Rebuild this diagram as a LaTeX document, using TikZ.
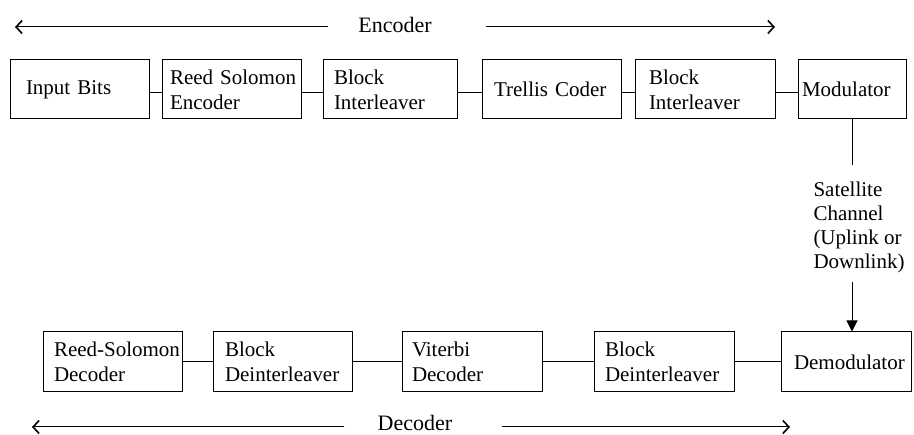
\documentclass[tikz,border=0pt]{standalone}
\usepackage{fontspec}
\setmainfont{Liberation Serif}
\usetikzlibrary{arrows.meta}

\begin{document}
\begin{tikzpicture}[x=1pt,y=-1pt,
  line width=1pt,
  every node/.style={font=\fontsize{21}{25}\selectfont},
  blk/.style n args={3}{draw, rectangle, inner ysep=0pt, inner xsep=#2,
    text width=#1-2*#2, minimum height=#3, align=left, anchor=center},
  link/.style={line width=1pt},
  span/.style={line width=1pt, -{Straight Barb[length=6pt,width=13pt,line width=1.6pt]}},
  feed/.style={line width=1pt, -{Triangle[length=11pt,width=11pt]}}]
\useasboundingbox (0,0) rectangle (914,435);

% transmit chain
\node[blk={139pt}{16pt}{59pt}] (inb) at (79.5,89.5) {\mbox{Input Bits}};
\node[blk={139pt}{8pt}{59pt}]  (rse) at (231.5,89.5) {\mbox{Reed Solomon}\\Encoder};
\node[blk={134pt}{11pt}{59pt}] (bi1) at (390,89.5) {Block\\\mbox{Interleaver}};
\node[blk={139pt}{12pt}{59pt}] (tc)  at (551.5,89.5) {\mbox{Trellis Coder}};
\node[blk={140pt}{14pt}{59pt}] (bi2) at (705,89.5) {Block\\\mbox{Interleaver}};
\node[blk={108pt}{4pt}{59pt}]  (mod) at (852,89.5) {\mbox{Modulator}};

\foreach \a/\b in {inb/rse, rse/bi1, bi1/tc, tc/bi2, bi2/mod}
  \draw[link] ([yshift=-3.5pt]\a.east) -- ([yshift=-3.5pt]\b.west);

% receive chain
\node[blk={139pt}{11pt}{60pt}] (rsd) at (112.5,362) {\mbox{Reed-Solomon}\\Decoder};
\node[blk={139pt}{12pt}{60pt}] (bd1) at (282.5,362) {Block\\\mbox{Deinterleaver}};
\node[blk={140pt}{10pt}{60pt}] (vd)  at (472,362) {Viterbi\\Decoder};
\node[blk={140pt}{11pt}{60pt}] (bd2) at (664,362) {Block\\\mbox{Deinterleaver}};
\node[blk={130pt}{13pt}{60pt}] (dem) at (846,362) {\mbox{Demodulator}};

\foreach \a/\b in {rsd/bd1, bd1/vd, vd/bd2, bd2/dem}
  \draw[link] (\a.east) -- (\b.west);

% channel between modulator and demodulator
\node[align=left, anchor=north west, inner sep=0pt,
      font=\fontsize{21}{24}\selectfont] (sat) at (813,181)
  {Satellite\\Channel\\\mbox{(Uplink or}\\Downlink)};
\coordinate (chA) at (852,165);
\coordinate (chB) at (852,282);
\draw[link] (mod.south) -- (chA);
\draw[feed] (chB) -- (chB |- dem.north);

% encoder / decoder extent
\node[inner sep=0pt, font=\fontsize{22}{26}\selectfont] (enc) at (395,25) {Encoder};
\coordinate (encL) at (15,27);
\coordinate (encR) at (775,27);
\draw[span] ([xshift=-30pt]enc.west |- encL) -- (encL);
\draw[span] ([xshift=54pt]enc.east |- encR) -- (encR);

\node[inner sep=0pt, font=\fontsize{22}{26}\selectfont] (dec) at (415,423) {Decoder};
\coordinate (decL) at (32,427);
\coordinate (decR) at (790,427);
\draw[span] ([xshift=-33pt]dec.west |- decL) -- (decL);
\draw[span] ([xshift=49pt]dec.east |- decR) -- (decR);
\end{tikzpicture}
\end{document}
